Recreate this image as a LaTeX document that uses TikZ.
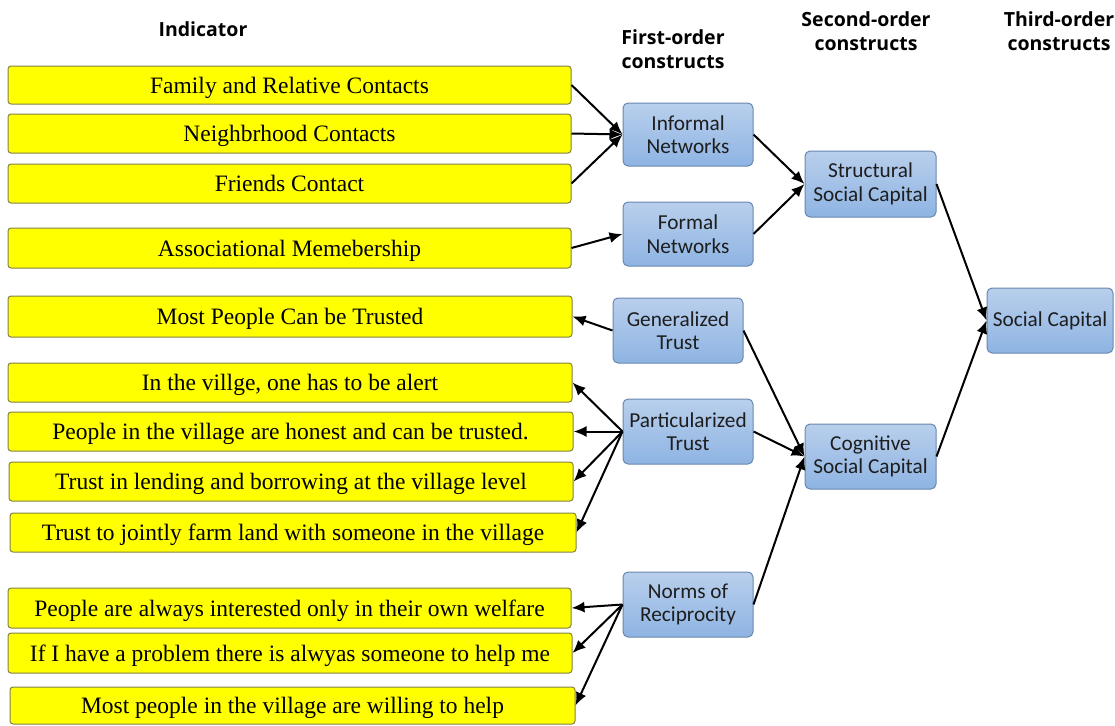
\documentclass[tikz,border=0pt]{standalone}
\usepackage{fontspec}
\setmainfont{Liberation Serif}
\newfontfamily\boxfont{Carlito}
\newfontfamily\headfont{Open Sans}
\usetikzlibrary{arrows.meta}
\definecolor{olivegray}{RGB}{130,130,70}
\definecolor{blueborder}{RGB}{105,135,175}
\definecolor{bluetop}{RGB}{185,207,236}
\definecolor{bluebot}{RGB}{142,180,227}
\definecolor{boxtext}{RGB}{30,30,30}
\definecolor{pureyellow}{RGB}{255,255,0}
\begin{document}
\begin{tikzpicture}[x=1pt,y=-1pt,
  indicator/.style={draw=olivegray, fill=pureyellow, rounded corners=3pt, line width=1pt,
    inner sep=0pt, minimum width=563pt, minimum height=39pt, text height=17pt, text depth=1pt,
    font=\fontsize{23.5}{26}\selectfont},
  construct/.style={draw=blueborder, rounded corners=5pt, top color=bluetop, bottom color=bluebot,
    line width=1pt, align=center, inner sep=0pt, minimum width=130pt, minimum height=65pt,
    text=boxtext, font=\boxfont\fontsize{21.3}{23.5}\selectfont},
  head/.style={align=center, font=\headfont\bfseries\fontsize{19.5}{24}\selectfont},
  link/.style={-{Latex[length=13pt,width=11pt]}, line width=2pt}
]
\useasboundingbox (0,0) rectangle (1115,725);

% column headings
\node[head] (hInd) at (203,29) {Indicator};
\node[head] (hFirst) at (673,49) {First-order\\constructs};
\node[head] (hSecond) at (866,31) {Second-order\\constructs};
\node[head] (hThird) at (1059,31) {Third-order\\constructs};

% indicators
\node[indicator, minimum height=38pt] (i1) at (289.5,85) {Family and Relative Contacts};
\node[indicator] (i2) at (289.5,133.5) {Neighbrhood Contacts};
\node[indicator] (i3) at (289.5,183.5) {Friends Contact};
\node[indicator, minimum height=40pt] (i4) at (289.5,248) {Associational Memebership};
\node[indicator, minimum width=564pt, minimum height=41pt] (i5) at (290,316.5) {Most People Can be Trusted};
\node[indicator, minimum width=564pt] (i6) at (290,382.5) {In the villge, one has to be alert};
\node[indicator, minimum width=565pt] (i7) at (290.5,431.5) {People in the village are honest and can be trusted.};
\node[indicator, minimum width=564pt] (i8) at (291,481.5) {Trust in lending and borrowing at the village level};
\node[indicator, minimum width=566pt] (i9) at (293,532.5) {Trust to jointly farm land with someone in the village};
\node[indicator, minimum height=40pt] (i10) at (289.5,608) {People are always interested only in their own welfare};
\node[indicator, minimum width=564pt, minimum height=40pt] (i11) at (290,653) {If I have a problem there is alwyas someone to help me};
\node[indicator, minimum width=565pt, minimum height=37pt] (i12) at (292.5,705.5) {Most people in the village are willing to help};

% first-order constructs
\node[construct, minimum height=63pt] (informal) at (688,134.5) {Informal\\Networks};
\node[construct, minimum height=64pt] (formal) at (688,234) {Formal\\Networks};
\node[construct] (general) at (678,330.5) {Generalized\\Trust};
\node[construct] (particular) at (688,431.5) {Particularized\\Trust};
\node[construct] (norms) at (688,604.5) {Norms of\\Reciprocity};

% second-order constructs
\node[construct, minimum width=131pt, minimum height=66pt] (structural) at (870.5,184) {Structural\\Social Capital};
\node[construct, minimum width=131pt] (cognitive) at (870.5,456.5) {Cognitive\\Social Capital};

% third-order construct
\node[construct, minimum width=126pt] (social) at (1050,320.5) {Social Capital};

% indicator links
\draw[link] (i1.east) -- (informal.west);
\draw[link] (i2.east) -- (informal.west);
\draw[link] (i3.east) -- (informal.west);
\draw[link] (i4.east) -- (formal.west);
\draw[link] (general.west) -- (i5.east);
\foreach \t in {i6,i7,i8,i9} \draw[link] (particular.west) -- (\t.east);
\foreach \t in {i10,i11,i12} \draw[link] (norms.west) -- (\t.east);

% construct hierarchy
\draw[link] (informal.east) -- (structural.west);
\draw[link] (formal.east) -- (structural.west);
\draw[link] (general.east) -- (cognitive.west);
\draw[link] (particular.east) -- (cognitive.west);
\draw[link] (norms.east) -- (cognitive.west);
\draw[link] (structural.east) -- (social.west);
\draw[link] (cognitive.east) -- (social.west);
\end{tikzpicture}
\end{document}
